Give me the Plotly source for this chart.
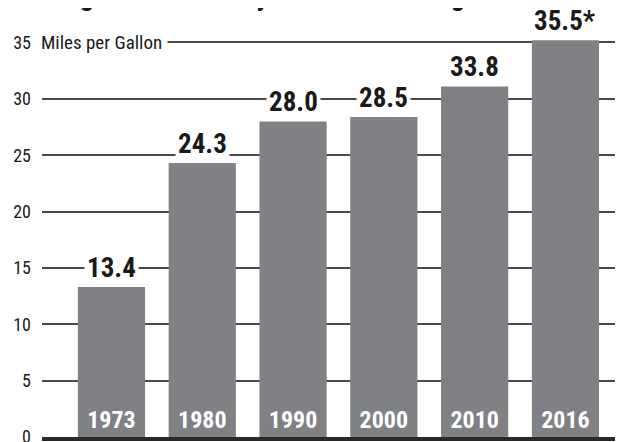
import plotly.graph_objects as go

years = ["1973", "1980", "1990", "2000", "2010", "2016"]
bar_heights = [13.3, 24.3, 28.0, 28.4, 31.1, 35.2]
value_labels = ["13.4", "24.3", "28.0", "28.5", "33.8", "35.5*"]
y_ticks = [0, 5, 10, 15, 20, 25, 30, 35]
title_text = "Average Fuel Economy Continues Rising"
unit_text = "Miles per Gallon"

FONT = "Liberation Sans Narrow, Roboto Condensed, Liberation Sans, Arial, sans-serif"

x_pos = list(range(len(years)))

fig = go.Figure()
fig.add_trace(go.Bar(
    x=x_pos, y=bar_heights,
    marker=dict(color="#808185", line=dict(width=0)),
    text=years, textposition="inside", insidetextanchor="start",
    textangle=0,
    textfont=dict(family=FONT, size=24, color="white", weight="bold"),
    hoverinfo="skip",
))

for xp, h, lab in zip(x_pos, bar_heights, value_labels):
    fig.add_annotation(
        x=xp, y=h, xref="x", yref="y", text=lab, showarrow=False,
        xanchor="center", yanchor="bottom",
        font=dict(family=FONT, size=27, color="#1a1a1a", weight="bold"),
        bgcolor="white", borderpad=2,
    )

fig.add_annotation(
    xref="paper", yref="y", x=-0.012, y=35, text=unit_text, showarrow=False,
    xanchor="left", yanchor="middle",
    font=dict(family=FONT, size=19, color="#1a1a1a"),
    bgcolor="white", borderpad=5,
)

fig.add_annotation(
    xref="paper", yref="paper", x=-0.048, y=1, text=title_text, showarrow=False,
    xanchor="left", yanchor="bottom", yshift=-6,
    font=dict(family=FONT, size=28, color="#1a1a1a", weight="bold"),
)

fig.update_layout(
    width=615, height=434,
    margin=dict(l=34, r=0, t=0, b=5, autoexpand=False),
    paper_bgcolor="white", plot_bgcolor="white",
    bargap=0.26, showlegend=False,
    xaxis=dict(
        range=[-0.765, 5.634], showticklabels=False,
        showgrid=False, showline=True, linecolor="#2a2a2a", linewidth=3.5,
        ticks="", zeroline=False, fixedrange=True, automargin=False,
    ),
    yaxis=dict(
        range=[0, 38.06], tickvals=y_ticks, showgrid=True,
        gridcolor="#4a4a4a", gridwidth=1.5, zeroline=False,
        tickfont=dict(family=FONT, size=18, color="#1a1a1a"),
        ticklabelstandoff=10, ticks="", showline=False, automargin=False,
        ticklabeloverflow="allow",
    ),
)

fig.write_html("out.html")
